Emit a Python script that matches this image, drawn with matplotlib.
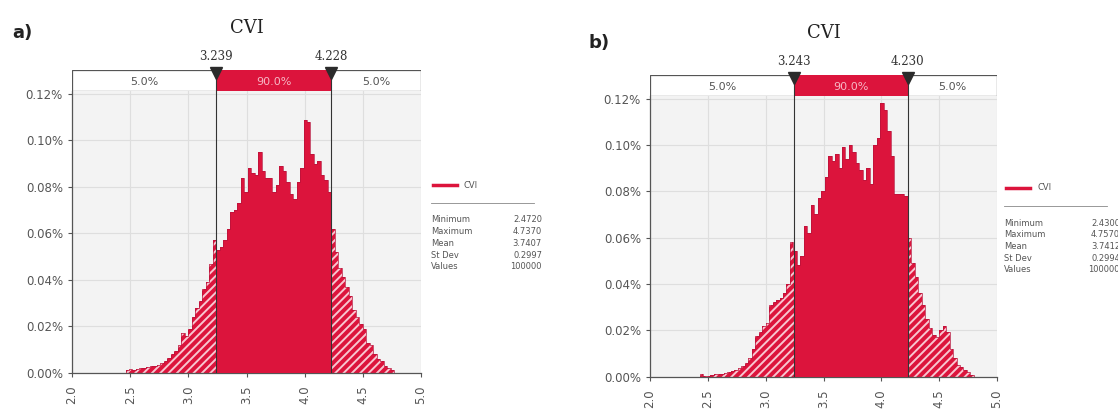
import numpy as np
import matplotlib
matplotlib.use("Agg")
import matplotlib.pyplot as plt
from matplotlib.patches import Rectangle
from matplotlib.lines import Line2D

# ---- data ----
# panel a) histogram, bin width 0.03 starting at 2.46, heights in %
a_start = 2.46
a_heights = [
    0.001, 0.0015, 0.001, 0.0015, 0.002, 0.002, 0.0025, 0.003, 0.003, 0.0035,
    0.004, 0.005, 0.0065, 0.008, 0.0095, 0.012, 0.017, 0.016, 0.019, 0.024,
    0.028, 0.031, 0.036, 0.039, 0.047, 0.057,
    0.053, 0.054, 0.057, 0.062, 0.069, 0.070, 0.073, 0.084, 0.078, 0.088,
    0.086, 0.085, 0.095, 0.087, 0.084, 0.084, 0.078, 0.081, 0.089, 0.087,
    0.082, 0.077, 0.075, 0.082, 0.088, 0.109, 0.108, 0.094, 0.090, 0.091,
    0.085, 0.083, 0.078, 0.062, 0.052, 0.045, 0.041, 0.037, 0.033, 0.027,
    0.024, 0.021, 0.019, 0.013, 0.012, 0.008, 0.006, 0.005, 0.003, 0.002,
    0.001,
]
a_low, a_high = 3.239, 4.228
a_stats = ["2.4720", "4.7370", "3.7407", "0.2997", "100000"]

# panel b) histogram, bin width 0.03 starting at 2.40
b_start = 2.40
b_heights = [
    0.0, 0.001, 0.0003, 0.0003, 0.0005, 0.001, 0.001, 0.0012, 0.0015, 0.002,
    0.0025, 0.003, 0.0035, 0.0045, 0.006, 0.008, 0.012, 0.0175, 0.019, 0.022,
    0.023, 0.031, 0.032, 0.033, 0.034, 0.036, 0.040, 0.058,
    0.054, 0.048, 0.052, 0.065, 0.062, 0.074, 0.070, 0.077, 0.080, 0.086,
    0.095, 0.093, 0.096, 0.090, 0.099, 0.094, 0.100, 0.097, 0.092, 0.089,
    0.085, 0.090, 0.083, 0.100, 0.103, 0.118, 0.115, 0.106, 0.095, 0.079,
    0.079, 0.079, 0.078, 0.060, 0.049, 0.043, 0.036, 0.031, 0.025, 0.021,
    0.018, 0.017, 0.020, 0.022, 0.019, 0.012, 0.008, 0.005, 0.004, 0.003,
    0.002, 0.0005,
]
b_low, b_high = 3.243, 4.230
b_stats = ["2.4300", "4.7570", "3.7412", "0.2994", "100000"]

bin_width = 0.03
stat_names = ["Minimum", "Maximum", "Mean", "St Dev", "Values"]
x_ticks = [2.0, 2.5, 3.0, 3.5, 4.0, 4.5, 5.0]
y_ticks = [0.0, 0.02, 0.04, 0.06, 0.08, 0.10, 0.12]

RED = "#DC143C"
GREY_TXT = "#555555"
W, H = 1118, 412

plt.rcParams["hatch.linewidth"] = 1.4


def fx(px):
    return px / W


def fy(py):
    return 1 - py / H


def segment(edges, heights, a, b):
    # pieces of the histogram between a and b (bins cut at a and b)
    e_in = [e for e in edges if a < e < b]
    seg_edges = np.array([a] + e_in + [b])
    mids = (seg_edges[:-1] + seg_edges[1:]) / 2
    idx = np.clip(np.searchsorted(edges, mids) - 1, 0, len(heights) - 1)
    return seg_edges, np.asarray(heights)[idx]


def draw_panel(fig, box, band, start, heights, low, high, stats, letter, letter_pos,
               title_y, legend_pos, ytop):
    left, right, top, bottom = box
    ax = fig.add_axes([fx(left), fy(bottom), fx(right - left), fy(top) - fy(bottom)])
    ax.set_facecolor("#F3F3F3")
    edges = start + bin_width * np.arange(len(heights) + 1)

    # hatched tails
    for a, b in ((edges[0], low), (high, edges[-1])):
        se, sh = segment(list(edges), heights, a, b)
        ax.stairs(sh, se, fill=True, facecolor=RED, edgecolor="#F8C6D1",
                  hatch="////", linewidth=0, zorder=2)
    # solid 90% part
    se, sh = segment(list(edges), heights, low, high)
    ax.stairs(sh, se, fill=True, facecolor=RED, linewidth=0, zorder=3)
    ax.stairs(heights, edges, fill=False, edgecolor="#B8123A", linewidth=0.5, zorder=4)

    for v in (low, high):
        ax.axvline(v, color="#333333", lw=0.8, zorder=5)

    ax.set_xlim(2.0, 5.0)
    ax.set_ylim(0, ytop)
    ax.set_xticks(x_ticks)
    ax.set_xticklabels([f"{v:.1f}" for v in x_ticks], rotation=90)
    ax.set_yticks(y_ticks)
    ax.set_yticklabels([f"{v:.2f}%" for v in y_ticks])
    ax.tick_params(labelsize=8.5, colors=GREY_TXT, length=3, width=0.8)
    ax.tick_params(axis="x", pad=6)
    ax.grid(True, color="#DEDEDE", lw=0.8, zorder=0)
    ax.set_axisbelow(True)
    for s in ("top", "right"):
        ax.spines[s].set_visible(False)
    for s in ("left", "bottom"):
        ax.spines[s].set_color("#555555")
        ax.spines[s].set_linewidth(0.9)

    # percentile band on top
    btop, bbot = band
    bax = fig.add_axes([fx(left), fy(bbot), fx(right - left), fy(btop) - fy(bbot)])
    bax.set_xlim(2.0, 5.0)
    bax.set_ylim(0, 1)
    bax.axis("off")
    bax.add_patch(Rectangle((2.0, 0), 3.0, 1, facecolor="white", edgecolor="#555555", lw=0.9))
    bax.add_patch(Rectangle((low, 0), high - low, 1, facecolor=RED, edgecolor="none"))
    bax.plot([low, low], [0, 1], color="#333333", lw=0.8)
    bax.plot([high, high], [0, 1], color="#333333", lw=0.8)
    bax.text((2.0 + low) / 2, 0.45, "5.0%", ha="center", va="center", fontsize=8, color=GREY_TXT)
    bax.text((low + high) / 2, 0.45, "90.0%", ha="center", va="center", fontsize=8, color="#F6B8C5")
    bax.text((high + 5.0) / 2, 0.45, "5.0%", ha="center", va="center", fontsize=8, color=GREY_TXT)
    bax.plot([low, high], [0.85, 0.85], linestyle="none", marker="v", markersize=8,
             color="#2b2b2b", clip_on=False)
    for v in (low, high):
        bax.text(v, 1.35, f"{v:.3f}", ha="center", va="bottom", fontsize=8.5,
                 color="#333333", family="DejaVu Serif")

    fig.text(fx((left + right) / 2), fy(title_y), "CVI", ha="center", va="center",
             fontsize=13, family="DejaVu Serif", color="#222222")
    fig.text(fx(letter_pos[0]), fy(letter_pos[1]), letter, ha="left", va="center",
             fontsize=13, fontweight="bold", color="#222222")

    # legend with statistics
    lx, ly, rx = legend_pos
    fig.add_artist(Line2D([fx(lx + 2), fx(lx + 26)], [fy(ly), fy(ly)], color=RED, lw=2.5))
    fig.text(fx(lx + 33), fy(ly), "CVI", ha="left", va="center", fontsize=6, color=GREY_TXT)
    fig.add_artist(Line2D([fx(lx), fx(lx + 103)], [fy(ly + 18), fy(ly + 18)],
                          color="#888888", lw=0.6))
    for i, (name, val) in enumerate(zip(stat_names, stats)):
        yy = ly + 35 + i * 11.7
        fig.text(fx(lx), fy(yy), name, ha="left", va="center", fontsize=6, color=GREY_TXT)
        fig.text(fx(rx), fy(yy), val, ha="right", va="center", fontsize=6, color=GREY_TXT)


fig = plt.figure(figsize=(W / 100, H / 100), dpi=100)

draw_panel(fig, (72, 421, 91, 372.7), (70, 91), a_start, a_heights, a_low, a_high, a_stats,
           "a)", (12, 33), 28, (431, 185, 542), 0.1213)
draw_panel(fig, (650, 997, 96, 376.5), (75, 96), b_start, b_heights, b_low, b_high, b_stats,
           "b)", (588, 43), 33, (1004, 188, 1120), 0.1211)

fig.savefig("out.png", dpi=100)
